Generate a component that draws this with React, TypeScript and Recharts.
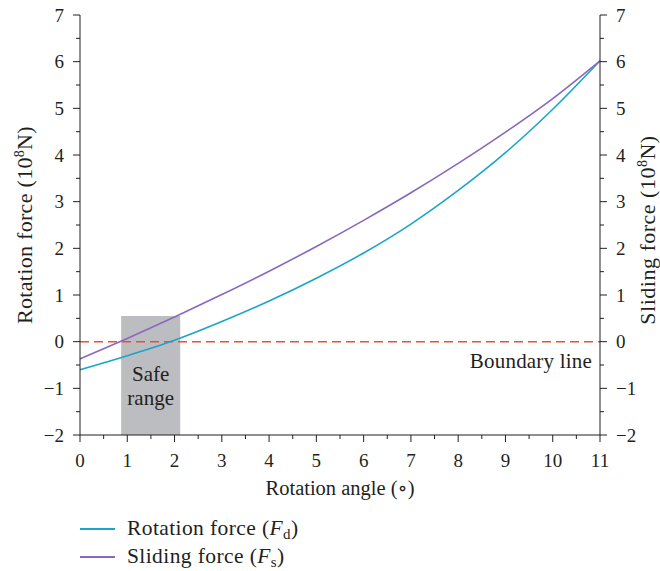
import React from 'react';
import { LineChart, Line, XAxis, YAxis, ReferenceArea, ReferenceLine, Label } from 'recharts';

// Data
const angles = [0, 1, 2, 3, 4, 5, 6, 7, 8, 9, 10, 11];
const rotationForce = [-0.6, -0.3, 0.03, 0.43, 0.87, 1.36, 1.9, 2.52, 3.24, 4.05, 4.98, 6.02];
const slidingForce = [-0.37, 0.07, 0.53, 1.01, 1.51, 2.04, 2.6, 3.19, 3.82, 4.49, 5.21, 6.02];

const xTicks = [0, 0.5, 1, 1.5, 2, 2.5, 3, 3.5, 4, 4.5, 5, 5.5, 6, 6.5, 7, 7.5, 8, 8.5, 9, 9.5, 10, 10.5, 11];
const yTicks = [-2, -1.5, -1, -0.5, 0, 0.5, 1, 1.5, 2, 2.5, 3, 3.5, 4, 4.5, 5, 5.5, 6, 6.5, 7];

const safeRangeStart = 0.87;
const safeRangeEnd = 2.12;
const safeRangeBottom = -2;
const safeRangeTop = 0.55;
const boundaryValue = 0;

const data = angles.map((a, i) => ({ angle: a, rotation: rotationForce[i], sliding: slidingForce[i] }));

const FONT = '"Liberation Serif", "DejaVu Serif", serif';
const TEXT = '#231f20';
const AXIS = '#231f20';
const C_ROT = '#1ba4cc';
const C_SLI = '#8a68bd';

const fmt = (v: number) => (v < 0 ? '\u2212' + Math.abs(v) : String(v));

const XTick = (props: any) => {
  const { x, y, payload } = props;
  const v = payload.value;
  const major = Number.isInteger(v);
  return (
    <g>
      <line x1={x} y1={y} x2={x} y2={y + (major ? 7 : 4)} stroke={AXIS} strokeWidth={1} />
      {major && (
        <text x={x} y={y + 32} textAnchor="middle" fontSize={19} fontFamily={FONT} fill={TEXT}>
          {v}
        </text>
      )}
    </g>
  );
};

const YTickLeft = (props: any) => {
  const { x, y, payload } = props;
  const v = payload.value;
  const major = Number.isInteger(v);
  return (
    <g>
      <line x1={x} y1={y} x2={x - (major ? 7 : 4)} y2={y} stroke={AXIS} strokeWidth={1} />
      {major && (
        <text x={x - 16} y={y + 6.5} textAnchor="end" fontSize={19} fontFamily={FONT} fill={TEXT}>
          {fmt(v)}
        </text>
      )}
    </g>
  );
};

const YTickRight = (props: any) => {
  const { x, y, payload } = props;
  const v = payload.value;
  const major = Number.isInteger(v);
  return (
    <g>
      <line x1={x} y1={y} x2={x + (major ? 7 : 4)} y2={y} stroke={AXIS} strokeWidth={1} />
      {major && (
        <text x={x + 16} y={y + 6.5} textAnchor="start" fontSize={19} fontFamily={FONT} fill={TEXT}>
          {fmt(v)}
        </text>
      )}
    </g>
  );
};

const LeftLabel = (props: any) => {
  const vb = props.viewBox;
  const cx = vb.x + 12;
  const cy = vb.y + vb.height / 2;
  return (
    <text x={cx} y={cy} transform={`rotate(-90 ${cx} ${cy})`} textAnchor="middle" fontSize={22} letterSpacing={0.3} fontFamily={FONT} fill={TEXT}>
      Rotation force (10<tspan dy={-8} fontSize={14}>8</tspan><tspan dy={8}>N)</tspan>
    </text>
  );
};

const RightLabel = (props: any) => {
  const vb = props.viewBox;
  const cx = vb.x + vb.width - 5;
  const cy = vb.y + vb.height / 2 + 5;
  return (
    <text x={cx} y={cy} transform={`rotate(-90 ${cx} ${cy})`} textAnchor="middle" fontSize={22} letterSpacing={0.5} fontFamily={FONT} fill={TEXT}>
      Sliding force (10<tspan dy={-8} fontSize={14}>8</tspan><tspan dy={8}>N)</tspan>
    </text>
  );
};

const XLabel = (props: any) => {
  const vb = props.viewBox;
  return (
    <text x={vb.x + vb.width / 2} y={vb.y + 60} textAnchor="middle" fontSize={20.5} fontFamily={FONT} fill={TEXT}>
      Rotation angle (∘)
    </text>
  );
};

const SafeLabel = (props: any) => {
  const vb = props.viewBox;
  const cx = vb.x + vb.width / 2;
  return (
    <text textAnchor="middle" fontSize={21} fontFamily={FONT} fill={TEXT}>
      <tspan x={cx} y={vb.y + 65}>Safe</tspan>
      <tspan x={cx} y={vb.y + 89}>range</tspan>
    </text>
  );
};

const BoundaryLabel = (props: any) => {
  const vb = props.viewBox;
  return (
    <text x={vb.x + vb.width - 8} y={vb.y + 26} textAnchor="end" fontSize={21} letterSpacing={0.2} fontFamily={FONT} fill={TEXT}>
      Boundary line
    </text>
  );
};

const legendItems = [
  { c: C_ROT, label: 'Rotation force', sym: 'F', sub: 'd' },
  { c: C_SLI, label: 'Sliding force', sym: 'F', sub: 's' },
];

const ChartLegend = () => (
  <div style={{ position: 'absolute', left: 80, top: 515, fontFamily: FONT, fontSize: 21.5, letterSpacing: 0.4, color: TEXT }}>
    {legendItems.map((r) => (
      <div key={r.label} style={{ display: 'flex', alignItems: 'center', height: 28, whiteSpace: 'nowrap' }}>
        <span style={{ display: 'inline-block', width: 35, borderTop: `2px solid ${r.c}`, marginRight: 12 }} />
        <span>
          {r.label} (<i>{r.sym}</i>
          <sub style={{ fontSize: 15, verticalAlign: -4 }}>{r.sub}</sub>)
        </span>
      </div>
    ))}
  </div>
);

export default function App() {
  return (
    <div style={{ position: 'absolute', left: 0, top: 0, width: 660, height: 571, background: '#fff' }}>
      <LineChart width={660} height={571} data={data} margin={{ top: 15, right: 0, bottom: 96, left: 20 }}>
        <XAxis
          dataKey="angle"
          type="number"
          domain={[0, 11]}
          ticks={xTicks}
          interval={0}
          tickSize={0}
          tickMargin={0}
          tickLine={false}
          tick={<XTick />}
          height={40}
          axisLine={{ stroke: AXIS }}
          allowDecimals
        >
          <Label content={<XLabel />} />
        </XAxis>
        <YAxis
          yAxisId="left"
          type="number"
          domain={[-2, 7]}
          ticks={yTicks}
          interval={0}
          tickSize={0}
          tickMargin={0}
          tickLine={false}
          tick={<YTickLeft />}
          width={60}
          axisLine={{ stroke: AXIS }}
        >
          <Label content={<LeftLabel />} />
        </YAxis>
        <YAxis
          yAxisId="right"
          orientation="right"
          type="number"
          domain={[-2, 7]}
          ticks={yTicks}
          interval={0}
          tickSize={0}
          tickMargin={0}
          tickLine={false}
          tick={<YTickRight />}
          width={60}
          axisLine={{ stroke: AXIS }}
        >
          <Label content={<RightLabel />} />
        </YAxis>
        <ReferenceArea
          yAxisId="left"
          x1={safeRangeStart}
          x2={safeRangeEnd}
          y1={safeRangeBottom}
          y2={safeRangeTop}
          fill="#bcbdc0"
          fillOpacity={1}
          stroke="none"
          ifOverflow="visible"
          label={<SafeLabel />}
        />
        <ReferenceLine
          yAxisId="left"
          y={boundaryValue}
          stroke="#ef4e34"
          strokeWidth={1.5}
          strokeDasharray="9 5"
          label={<BoundaryLabel />}
        />
        <Line
          yAxisId="left"
          type="monotone"
          dataKey="rotation"
          stroke={C_ROT}
          strokeWidth={1.6}
          dot={false}
          isAnimationActive={false}
        />
        <Line
          yAxisId="right"
          type="monotone"
          dataKey="sliding"
          stroke={C_SLI}
          strokeWidth={1.6}
          dot={false}
          isAnimationActive={false}
        />
      </LineChart>
      <ChartLegend />
    </div>
  );
}
